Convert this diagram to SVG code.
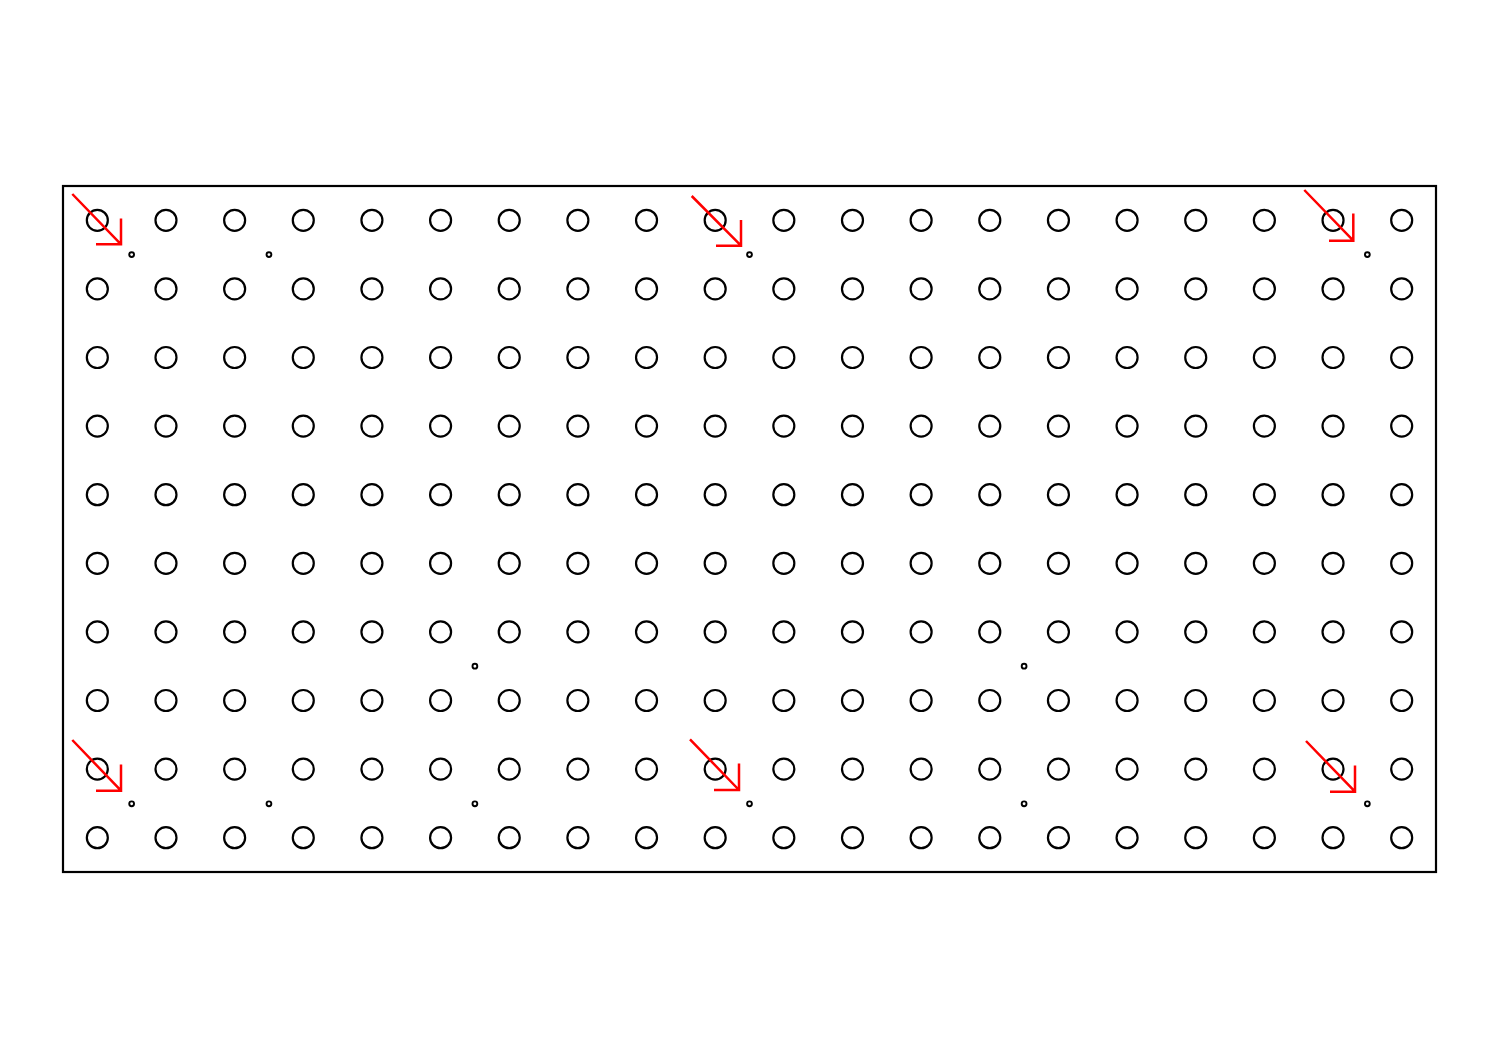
<svg xmlns="http://www.w3.org/2000/svg" xmlns:xlink="http://www.w3.org/1999/xlink" width="1500" height="1059" viewBox="0 0 1500 1059">
<style>
.c{fill:none;stroke:#000;stroke-width:2.2}
.d{fill:#fff;stroke:#000;stroke-width:1.9}
.a{fill:none;stroke:#ff0000;stroke-width:2.5}
</style>
<defs>
<g id="row">
<circle class="c" cx="97.33" cy="0" r="10.5"/>
<circle class="c" cx="165.98" cy="0" r="10.5"/>
<circle class="c" cx="234.63" cy="0" r="10.5"/>
<circle class="c" cx="303.28" cy="0" r="10.5"/>
<circle class="c" cx="371.93" cy="0" r="10.5"/>
<circle class="c" cx="440.58" cy="0" r="10.5"/>
<circle class="c" cx="509.23" cy="0" r="10.5"/>
<circle class="c" cx="577.88" cy="0" r="10.5"/>
<circle class="c" cx="646.53" cy="0" r="10.5"/>
<circle class="c" cx="715.18" cy="0" r="10.5"/>
<circle class="c" cx="783.83" cy="0" r="10.5"/>
<circle class="c" cx="852.48" cy="0" r="10.5"/>
<circle class="c" cx="921.13" cy="0" r="10.5"/>
<circle class="c" cx="989.78" cy="0" r="10.5"/>
<circle class="c" cx="1058.43" cy="0" r="10.5"/>
<circle class="c" cx="1127.08" cy="0" r="10.5"/>
<circle class="c" cx="1195.73" cy="0" r="10.5"/>
<circle class="c" cx="1264.38" cy="0" r="10.5"/>
<circle class="c" cx="1333.03" cy="0" r="10.5"/>
<circle class="c" cx="1401.68" cy="0" r="10.5"/>
</g>
</defs>
<rect width="1500" height="1059" fill="#fff"/>
<g id="frame"><rect x="63" y="186" width="1373" height="686" fill="none" stroke="#000" stroke-width="2.2"/></g>
<g id="grid">
<use xlink:href="#row" href="#row" y="220.3"/>
<use xlink:href="#row" href="#row" y="288.9"/>
<use xlink:href="#row" href="#row" y="357.5"/>
<use xlink:href="#row" href="#row" y="426.1"/>
<use xlink:href="#row" href="#row" y="494.7"/>
<use xlink:href="#row" href="#row" y="563.3"/>
<use xlink:href="#row" href="#row" y="631.9"/>
<use xlink:href="#row" href="#row" y="700.5"/>
<use xlink:href="#row" href="#row" y="769.1"/>
<use xlink:href="#row" href="#row" y="837.7"/>
</g>
<g id="dots">
<circle class="d" cx="131.65" cy="254.6" r="2.4"/>
<circle class="d" cx="268.95" cy="254.6" r="2.4"/>
<circle class="d" cx="749.5" cy="254.6" r="2.4"/>
<circle class="d" cx="1367.35" cy="254.6" r="2.4"/>
<circle class="d" cx="474.9" cy="666.2" r="2.4"/>
<circle class="d" cx="1024.1" cy="666.2" r="2.4"/>
<circle class="d" cx="131.65" cy="803.8" r="2.4"/>
<circle class="d" cx="268.95" cy="803.8" r="2.4"/>
<circle class="d" cx="474.9" cy="803.8" r="2.4"/>
<circle class="d" cx="749.5" cy="803.8" r="2.4"/>
<circle class="d" cx="1024.1" cy="803.8" r="2.4"/>
<circle class="d" cx="1367.35" cy="803.8" r="2.4"/>
</g>
<g id="connectors">
<path class="a" d="M72.3 194L121 244.3M96 244.3H121V218.5"/>
<path class="a" d="M691.7 196L741 245.7M716 245.7H741V220"/>
<path class="a" d="M1304.3 190L1353.3 240.7M1329 240.7H1353.3V213.5"/>
<path class="a" d="M72.3 740L121 790.7M96 790.7H121V764.5"/>
<path class="a" d="M690 739.3L739 790M714 790H739V763.5"/>
<path class="a" d="M1306 741L1355 791.7M1330 791.7H1355V765.5"/>
</g>
</svg>
